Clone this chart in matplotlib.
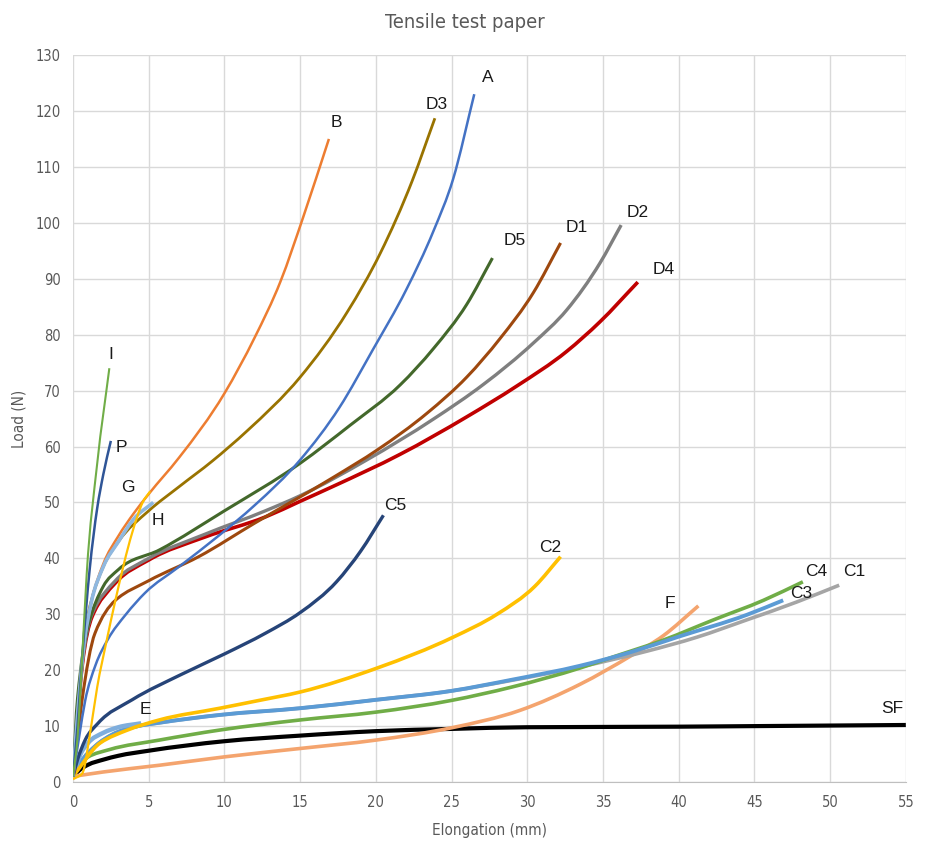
import matplotlib
matplotlib.use("Agg")
import matplotlib.pyplot as plt
import numpy as np
from matplotlib.path import Path
from matplotlib.patches import PathPatch

# elongation (mm) / load (N), one pair of lists per sample
a_x = [0, 0.4, 0.8, 1.5, 2.3, 3.5, 4.75, 7, 9.6, 12, 15, 17.6, 19.8, 22, 23.8, 25.1, 26.5]
a_y = [1, 8, 14.5, 21, 25.5, 30, 33.8, 38.5, 44, 49.5, 57.6, 67, 77.3, 88, 98.5, 107.8, 123]
b_x = [0, 0.3, 0.7, 1.2, 2, 3, 4, 5, 7, 10, 12, 13.7, 15.2, 16.9]
b_y = [1, 12, 24, 32, 39, 44, 48, 51.5, 58, 69.5, 79.5, 89.5, 101, 115]
d3_x = [0, 0.5, 1, 2, 3, 5, 7, 9.2, 11.5, 15, 18.1, 20.3, 22.4, 23.9]
d3_y = [1, 18, 30, 38.5, 43, 48.5, 52.8, 57.4, 62.8, 72.4, 84, 94.6, 107.5, 118.7]
d5_x = [0, 0.3, 1, 2, 3, 5.7, 10, 15, 18.3, 21.6, 23.8, 26, 27.7]
d5_y = [1, 15, 28, 35, 38, 41.5, 48.5, 57, 63.8, 71, 77.5, 85.4, 93.7]
d1_x = [0, 0.6, 1.45, 2.8, 5, 8.3, 12, 17.2, 20.1, 23.4, 26, 28.2, 30.4, 32.2]
d1_y = [1, 14.7, 26.6, 32.5, 36, 40.3, 46.3, 54.5, 59.4, 66, 72.4, 79.3, 87.5, 96.4]
d2_x = [0, 0.6, 1.25, 2.8, 5, 8.7, 12.7, 15, 19.4, 23.8, 27.1, 30.4, 32.6, 34.8, 36.2]
d2_y = [1, 21, 30, 36, 40, 44.3, 48.5, 51.2, 57.6, 64.9, 71.1, 78.5, 84.4, 92.8, 99.6]
d4_x = [0, 0.6, 1.25, 2.8, 5, 8.7, 12.7, 15, 17.2, 21.6, 26, 29.3, 32.6, 34.8, 37.3]
d4_y = [1, 20.6, 29.5, 35.6, 39.7, 43.8, 47.4, 50.2, 52.9, 58.6, 65.3, 70.8, 77, 82.3, 89.4]
c5_x = [0, 0.3, 0.8, 1.65, 3.9, 7.2, 10, 12.7, 15, 17.4, 19, 20.5]
c5_y = [1, 4, 7.5, 10.5, 14.7, 19.3, 22.9, 26.6, 30.3, 35.8, 41.3, 47.7]
c2_x = [0, 1.8, 3.6, 5.7, 9.7, 12.3, 15, 20.1, 25.1, 28, 30.5, 32.2]
c2_y = [1, 7, 9.3, 11.1, 13.2, 14.6, 16.1, 20.4, 25.9, 30, 35, 40.3]
c3_x = [0, 0.5, 1.5, 2.6, 4.3, 5.7, 9.7, 15, 20, 25, 29, 33.5, 36.8, 40, 44.5, 46.9]
c3_y = [1, 3.5, 6.5, 8.5, 10, 10.6, 12, 13.2, 14.7, 16.3, 18.3, 20.8, 23.2, 26, 29.9, 32.5]
c4_x = [0, 0.5, 1, 2.4, 5.7, 9.7, 15, 20, 25, 29, 33.5, 35.7, 39, 42.3, 45.6, 48.2]
c4_y = [1, 3, 4.5, 5.8, 7.5, 9.3, 11.1, 12.5, 14.6, 17, 20.4, 22.4, 25.4, 29, 32.5, 35.8]
c1_x = [0, 0.5, 1.5, 2.6, 4.3, 5.7, 9.7, 15, 20, 25, 29, 33.5, 37.9, 41.2, 44.5, 47.8, 50.6]
c1_y = [1, 3.5, 6.5, 8.5, 10, 10.6, 12, 13.2, 14.7, 16.3, 18.2, 20.6, 23.4, 25.9, 29, 32.2, 35.2]
f_x = [0, 2, 5.7, 10, 15, 20, 25, 29.5, 33.5, 36.8, 39, 41.3]
f_y = [1, 1.8, 3, 4.5, 6, 7.5, 9.7, 12.8, 17.5, 22.5, 26.2, 31.5]
sf_x = [0, 0.5, 1, 2, 3, 5, 10, 15, 20, 25, 30, 40, 45, 50, 55]
sf_y = [1, 2.3, 3.1, 4, 4.7, 5.6, 7.3, 8.3, 9.1, 9.5, 9.8, 9.9, 10.0, 10.1, 10.2]
e_x = [0, 0.5, 1, 2, 3, 4.5]
e_y = [1, 5, 7, 8.8, 9.8, 10.5]
i_x = [0, 0.3, 0.6, 0.9, 1.6, 2.4]
i_y = [1, 8, 22, 37, 57, 74]
p_x = [0, 0.3, 0.6, 1.1, 1.6, 2.0, 2.5]
p_y = [1, 10, 22, 38, 49, 55, 61]
g_x = [0, 0.6, 1.2, 1.6, 2.2, 2.8, 3.9, 4.6, 5.1]
g_y = [0.5, 1.5, 10, 17, 25, 32.5, 44.5, 50, 52]
h_x = [0, 0.3, 0.7, 1.2, 2, 3, 4, 5.3]
h_y = [1, 12, 24, 32, 38.5, 43, 47, 50]

# name, x, y, colour, width, label position
series = [
    ("SF", sf_x, sf_y, "#000000", 3.0, (54.1, 13.1)),
    ("F", f_x, f_y, "#F4A46E", 2.6, (39.4, 32.0)),
    ("C1", c1_x, c1_y, "#A5A5A5", 2.6, (51.6, 37.7)),
    ("C4", c4_x, c4_y, "#70AD47", 2.6, (49.1, 37.7)),
    ("C3", c3_x, c3_y, "#5B9BD5", 2.8, (48.1, 33.8)),
    ("E", e_x, e_y, "#7FAEDD", 3.2, (4.75, 12.9)),
    ("C2", c2_x, c2_y, "#FFC000", 2.6, (31.5, 42.0)),
    ("C5", c5_x, c5_y, "#264478", 2.4, (21.3, 49.5)),
    ("D4", d4_x, d4_y, "#C00000", 2.6, (39.0, 91.6)),
    ("D2", d2_x, d2_y, "#7F7F7F", 2.4, (37.3, 101.9)),
    ("D1", d1_x, d1_y, "#9E480E", 2.2, (33.3, 99.1)),
    ("D5", d5_x, d5_y, "#43682B", 2.2, (29.2, 96.9)),
    ("A", a_x, a_y, "#4472C4", 1.8, (27.4, 126.0)),
    ("D3", d3_x, d3_y, "#997300", 2.0, (24.0, 121.1)),
    ("B", b_x, b_y, "#ED7D31", 1.8, (17.4, 118.0)),
    ("H", h_x, h_y, "#8FB8E0", 2.6, (5.6, 46.7)),
    ("G", g_x, g_y, "#FFC000", 1.6, (3.6, 52.6)),
    ("P", p_x, p_y, "#2F5597", 1.8, (3.2, 59.9)),
    ("I", i_x, i_y, "#70AD47", 1.5, (2.5, 76.5)),
]


def smooth_path(xs, ys):
    # smoothed line drawn as bezier segments
    # three point tangents, harmonic mean where the slope jumps (no overshoot)
    x = np.asarray(xs, float)
    y = np.asarray(ys, float)
    h = np.diff(x)
    d = np.diff(y) / h
    m = np.empty_like(y)
    m[0], m[-1] = d[0], d[-1]
    for k in range(1, len(x) - 1):
        lo, hi = sorted([d[k - 1], d[k]])
        if lo > 0 and hi / lo > 2.5:
            w1 = 2 * h[k] + h[k - 1]
            w2 = h[k] + 2 * h[k - 1]
            m[k] = (w1 + w2) / (w1 / d[k - 1] + w2 / d[k])
        else:
            m[k] = (h[k] * d[k - 1] + h[k - 1] * d[k]) / (h[k - 1] + h[k])
    verts = [(x[0], y[0])]
    codes = [Path.MOVETO]
    for k in range(len(x) - 1):
        t = h[k] / 3
        verts += [(x[k] + t, y[k] + t * m[k]),
                  (x[k + 1] - t, y[k + 1] - t * m[k + 1]),
                  (x[k + 1], y[k + 1])]
        codes += [Path.CURVE4] * 3
    return Path(verts, codes)


grey = "#595959"
narrow = dict(family="DejaVu Sans", stretch="condensed")

fig = plt.figure(figsize=(9.3, 8.47), dpi=100)
ax = fig.add_axes([0.0785, 0.0767, 0.8955, 0.8583])

for name, xs, ys, col, lw, pos in series:
    ax.add_patch(PathPatch(smooth_path(xs, ys), fill=False, edgecolor=col,
                           lw=lw, capstyle="butt", joinstyle="round"))
    ax.text(pos[0], pos[1], name, fontsize=12.5, color="#1a1a1a",
            family="Liberation Sans", ha="center", va="center")

ax.set_xlim(0, 55)
ax.set_ylim(0, 130)
ax.set_xticks(range(0, 56, 5))
ax.set_yticks(range(0, 131, 10))
ax.grid(color="#D9D9D9", lw=1)
ax.set_axisbelow(True)
for s in ["top", "right", "left"]:
    ax.spines[s].set_visible(False)
ax.spines["bottom"].set_color("#BFBFBF")
ax.tick_params(length=0, colors=grey, labelsize=10.5, pad=9)
for lab in ax.get_xticklabels() + ax.get_yticklabels():
    lab.set_fontstretch("condensed")

ax.set_xlabel("Elongation (mm)", color=grey, fontsize=11, labelpad=10, **narrow)
ax.set_ylabel("Load (N)", color=grey, fontsize=11, labelpad=6, **narrow)
fig.suptitle("Tensile test paper", x=0.5, y=0.985, color=grey, fontsize=14.5, **narrow)

fig.savefig("out.png", dpi=100)
